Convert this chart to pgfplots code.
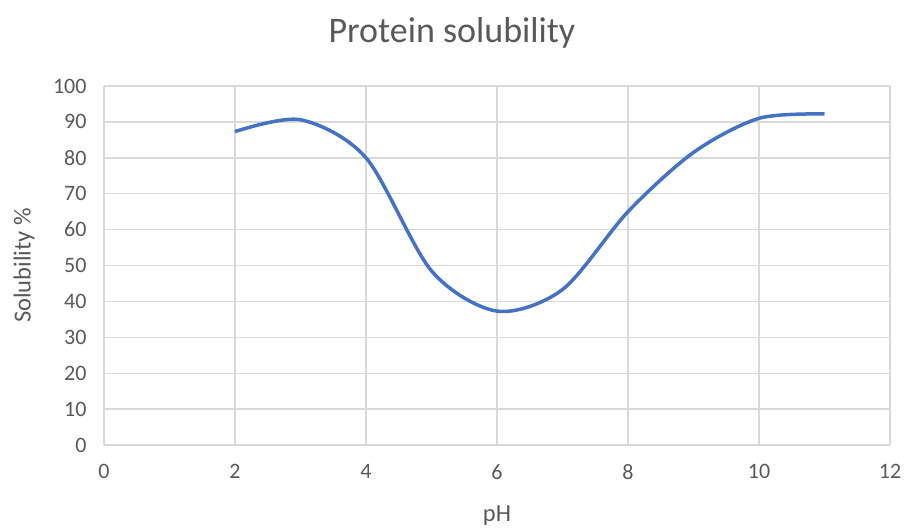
\documentclass[border=0pt]{standalone}
\usepackage{pgfplots}
\pgfplotsset{compat=1.18}
\usepackage{fontspec}
\setmainfont{Carlito}
\definecolor{linecol}{HTML}{4472C4}
\definecolor{gridcol}{HTML}{D9D9D9}
\definecolor{txtcol}{HTML}{595959}
\begin{document}
\begin{tikzpicture}
\begin{axis}[
  name=ax,
  scale only axis,
  width=786pt, height=359pt,
  xmin=0, xmax=12, ymin=0, ymax=100,
  xtick={0,2,...,12}, ytick={0,10,...,100},
  grid=major,
  major grid style={gridcol, line width=1.4pt},
  axis line style={gridcol, line width=1.6pt},
  axis x line*=bottom, axis y line*=left,
  x axis line style={-}, y axis line style={-},
  tick style={draw=none},
  /pgf/number format/assume math mode=true,
  ticklabel style={font=\fontsize{22}{26}\selectfont, text=txtcol},
  xticklabel style={yshift=-16pt},
  yticklabel style={xshift=-14pt},
  xlabel={pH}, ylabel={Solubility \%},
  label style={font=\fontsize{24.5}{29}\selectfont, text=txtcol},
  xlabel style={at={(axis description cs:0.5,0)}, anchor=center, yshift=-71pt},
  ylabel style={at={(axis description cs:0,0.5)}, anchor=center, rotate=0, yshift=80pt},
  clip=false,
]
\addplot[linecol, line width=3.5pt, smooth, tension=0.5] coordinates {
  (2,87.3) (3,90.6) (4,80) (5,48.5) (6,37.3) (7,43.3) (8,65) (9,81.5) (10,91) (11,92.2)
};
\end{axis}
\node[font=\fontsize{36}{42}\selectfont, text=txtcol] at ([xshift=-45pt,yshift=53pt]ax.north) {Protein solubility};
\pgfresetboundingbox
\path ([xshift=-104pt,yshift=-83pt]ax.south west) rectangle ([xshift=14pt,yshift=86pt]ax.north east);
\end{tikzpicture}
\end{document}
